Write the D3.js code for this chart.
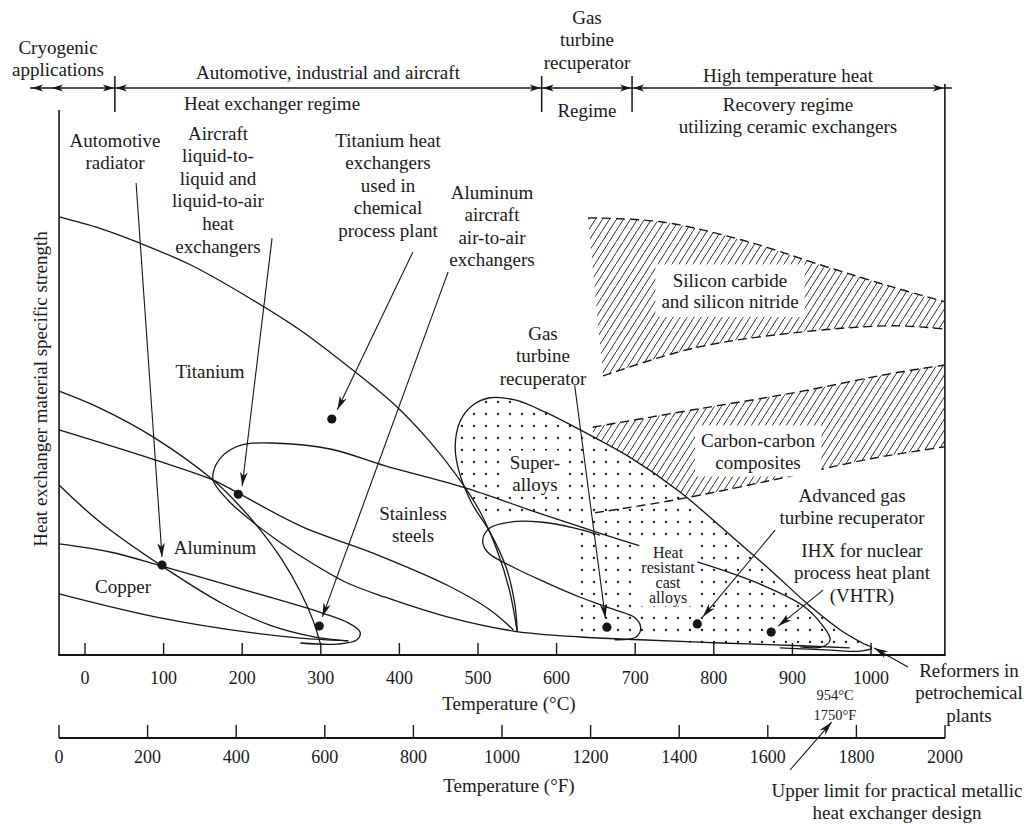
<!DOCTYPE html>
<html>
<head>
<meta charset="utf-8">
<script src="https://cdn.jsdelivr.net/npm/d3@7"></script>
<style>
  body { margin: 0; background: #fff; }
  text { font-family: "Liberation Serif", "Times New Roman", serif; fill: #1a1a1a; }
</style>
</head>
<body>
<svg id="chart" width="1034" height="824"></svg>
<script>
// x values in °C, y values as a relative specific-strength index (0 = axis, 100 = top of frame)
const celsiusTicks = d3.range(0, 1001, 100);
const fahrenheitTicks = d3.range(0, 2001, 200);
const regimeBounds = [-70, 38, 581, 696, 1094];

const titanium = [[-33,80.4],[19,78.3],[66,75.8],[134,71.6],[207,65.7],[274,59.6],[337,52.7],[394,45.9],[439,39.1],[475,32.5],[503,26.2],[524,19.3],[540,11.9],[550,4.2]];
const titaniumLower = [[-33,41.3],[89,35.8],[163,32.1],[195,29.7],[274,23.7],[375,18.2],[461,12.8],[515,8.3],[545,4.6]];
const aluminumUpper = [[-33,48.4],[19,45.3],[89,39.8],[163,32.1],[197,27.3],[225,22.6],[251,17.4],[274,11.6],[290,6.4],[300,1.8]];
const aluminumLower = [[-33,31.2],[19,24.4],[98,16.3],[174,9.5],[235,5.5],[293,3.3],[335,2.6]];
const copperUpper = [[-33,20.4],[32,18.9],[98,16.3],[216,11.4],[302,7.7],[335,5.9],[350,4.2],[346,2.8],[322,2.0],[274,2.2]];
const copperLower = [[-33,11.2],[89,7.0],[216,4.0],[274,3.1],[335,2.6]];
const stainless = [[973,1.3],[910,1.7],[808,2.2],[706,2.8],[630,3.3],[545,4.4],[461,7.0],[382,10.6],[331,13.4],[286,17.1],[248,20.7],[210,24.8],[182,28.4],[163,32.1],
  [167,35.0],[182,37.4],[204,38.7],[238,38.9],[312,37.8],[382,34.7],[481,30.8],[566,26.6],[643,22.9],[702,20.2],[783,16.9],[859,13.0],[914,9.0],[938,5.5],[948,2.8],[938,1.5],[910,1.5]];
const heatResistant = [[655,22.0],[623,23.3],[579,24.4],[541,24.4],[515,23.3],[506,21.1],[512,18.9],[545,16.1],[588,13.2],[630,10.6],[672,8.4],[700,6.8],[707,5.0],[701,3.3],[674,2.8]];
const superalloy = [[550,4.2],[547,9.2],[536,16.0],[515,22.6],[492,27.9],[476,33.6],[471,38.3],[477,42.8],[492,45.7],[515,47.2],[547,46.8],[585,44.6],[630,41.3],[693,36.3],[757,29.9],[821,22.0],[875,15.2],[919,9.4],[961,4.6],[989,2.2],[1001,1.3],[986,0.7],[948,0.9],[884,1.3]];
const sicTop = [[640,80.2],[732,79.5],[837,76.1],[944,71.2],[1028,67.5],[1094,64.8]];
const sicBottom = [[659,51.2],[774,56.3],[901,59.1],[1028,60.4],[1094,59.8]];
const ccTop = [[646,41.8],[774,45.0],[901,48.1],[1028,51.7],[1094,53.2]];
const ccBottom = [[649,26.1],[748,28.4],[875,32.1],[1003,36.1],[1094,38.2]];
const applications = [[98,16.5],[195,29.5],[298,5.3],[314,43.3],[664,5.1],[779,5.7],[873,4.2]];
const pointers = [
  [[65,86.6],[98,18.0]], [[238,76.5],[200,31.0]], [[417,73.9],[321,45.0]], [[462,70.3],[302,7.0]],
  [[623,49.5],[662,6.8]], [[878,22.9],[786,7.0]], [[939,11.9],[882,5.3]], [[1047,-2.2],[1004,1.3]],
  [[897,-21.1],[950,-12.3]]
];
const dotGap = {maxTemp: 620, maxStrength: 24.8};

const notes = [
  {x: 58, y: 47, lines: ["Cryogenic", "applications"]},
  {x: 328, y: 72, lines: ["Automotive, industrial and aircraft"]},
  {x: 272, y: 103, lines: ["Heat exchanger regime"]},
  {x: 587, y: 17, lines: ["Gas", "turbine", "recuperator"]},
  {x: 587, y: 110, lines: ["Regime"]},
  {x: 788, y: 75, lines: ["High temperature heat"]},
  {x: 788, y: 104, lines: ["Recovery regime", "utilizing ceramic exchangers"]},
  {x: 115, y: 140, lines: ["Automotive", "radiator"]},
  {x: 218, y: 133, lines: ["Aircraft", "liquid-to-", "liquid and", "liquid-to-air", "heat", "exchangers"]},
  {x: 388, y: 140, lines: ["Titanium heat", "exchangers", "used in", "chemical", "process plant"]},
  {x: 492, y: 192, lines: ["Aluminum", "aircraft", "air-to-air", "exchangers"]},
  {x: 543, y: 333, lines: ["Gas", "turbine", "recuperator"]},
  {x: 210, y: 371, lines: ["Titanium"]},
  {x: 413, y: 513, lines: ["Stainless", "steels"]},
  {x: 215, y: 547, lines: ["Aluminum"]},
  {x: 123, y: 586, lines: ["Copper"]},
  {x: 535, y: 462, lines: ["Super-", "alloys"], pad: [3, 1]},
  {x: 668, y: 552, lines: ["Heat", "resistant", "cast", "alloys"], size: 16, lh: 15, pad: [2, 0]},
  {x: 730, y: 280, lines: ["Silicon carbide", "and silicon nitride"], lh: 21.5, pad: [6, 5]},
  {x: 758, y: 440, lines: ["Carbon-carbon", "composites"], lh: 22, pad: [6, 4]},
  {x: 852, y: 495, lines: ["Advanced gas", "turbine recuperator"], lh: 22},
  {x: 862, y: 550, lines: ["IHX for nuclear", "process heat plant", "(VHTR)"]},
  {x: 969, y: 670, lines: ["Reformers in", "petrochemical", "plants"]},
  {x: 835, y: 695, lines: ["954°C", "1750°F"], size: 14.5, lh: 20},
  {x: 897, y: 790, lines: ["Upper limit for practical metallic", "heat exchanger design"]},
  {x: 509, y: 703, lines: ["Temperature (°C)"]},
  {x: 509, y: 785, lines: ["Temperature (°F)"]}
];

const svg = d3.select("#chart");
const ink = "#161616";
const frameLeft = -33, frameRight = 1094;

const x = d3.scaleLinear().domain([0, 1000]).range([85, 871]);
const xF = d3.scaleLinear().domain([0, 2000]).range([59, 945]);
const y = d3.scaleLinear().domain([0, 100]).range([655, 110]);

const line = d3.line().x(d => x(d[0])).y(d => y(d[1])).curve(d3.curveCatmullRom.alpha(0.5));
const band = (top, bottom) => line(top) + "L" + line(bottom.slice().reverse()).slice(1) + "Z";

svg.append("rect").attr("width", 1034).attr("height", 824).attr("fill", "#fff");

const defs = svg.append("defs");
defs.append("pattern").attr("id", "hatch").attr("patternUnits", "userSpaceOnUse")
    .attr("width", 7).attr("height", 11)
  .append("path").attr("d", "M-0.64,12L7.64,-1").attr("stroke", ink).attr("stroke-width", 0.9);
defs.append("pattern").attr("id", "dots").attr("patternUnits", "userSpaceOnUse")
    .attr("width", 12).attr("height", 12)
  .append("circle").attr("cx", 6).attr("cy", 6).attr("r", 1.15).attr("fill", ink);
defs.append("marker").attr("id", "tip").attr("viewBox", "-15 -5 16 10")
    .attr("refX", 0).attr("refY", 0).attr("markerWidth", 16).attr("markerHeight", 10)
    .attr("markerUnits", "userSpaceOnUse").attr("orient", "auto")
  .append("path").attr("d", "M0,0L-14,-3.8L-10,0L-14,3.8Z").attr("fill", ink);

defs.append("clipPath").attr("id", "saClip").append("path").attr("d", line(superalloy) + "Z");
const diag = superalloy.slice(11, 21);
defs.append("clipPath").attr("id", "ccClip").append("path")
    .attr("d", line(diag) + `L${x(frameRight) + 5},${y(-3)}L${x(frameRight) + 5},${y(100)}L${x(diag[0][0])},${y(100)}Z`);
const mask = defs.append("mask").attr("id", "dotMask");
mask.append("rect").attr("width", 1034).attr("height", 824).attr("fill", "#fff");
mask.append("rect").attr("x", x(400)).attr("y", y(dotGap.maxStrength))
    .attr("width", x(dotGap.maxTemp) - x(400)).attr("height", y(0) - y(dotGap.maxStrength)).attr("fill", "#000");

// dotted superalloy field
svg.append("rect").attr("x", x(440)).attr("y", y(50)).attr("width", x(1020) - x(440)).attr("height", y(0) - y(50))
    .attr("fill", "url(#dots)").attr("clip-path", "url(#saClip)").attr("mask", "url(#dotMask)");

// hatched ceramic bands
svg.append("path").attr("d", band(sicTop, sicBottom)).attr("fill", "url(#hatch)");
svg.append("path").attr("d", band(ccTop, ccBottom)).attr("fill", "url(#hatch)").attr("clip-path", "url(#ccClip)");

[titanium, titaniumLower, aluminumUpper, aluminumLower, copperUpper, copperLower, stainless, heatResistant, superalloy]
  .forEach(c => svg.append("path").attr("d", line(c)).attr("fill", "none").attr("stroke", ink).attr("stroke-width", 1.3));

[sicTop, sicBottom, ccTop, ccBottom].forEach(c => svg.append("path").attr("d", line(c))
    .attr("fill", "none").attr("stroke", ink).attr("stroke-width", 1.4).attr("stroke-dasharray", "9,5"));

notes.forEach(n => {
  const g = svg.append("g");
  const fs = n.size || 19, lh = n.lh || 22.6;
  n.lines.forEach((t, i) => g.append("text")
      .attr("x", n.x).attr("y", n.y + i * lh)
      .attr("text-anchor", "middle").attr("dominant-baseline", "central")
      .style("font-size", fs + "px").text(t));
  if (n.pad) {
    const b = g.node().getBBox();
    g.insert("rect", "text").attr("x", b.x - n.pad[0]).attr("y", b.y - n.pad[1])
        .attr("width", b.width + 2 * n.pad[0]).attr("height", b.height + 2 * n.pad[1]).attr("fill", "#fff");
  }
});

svg.append("text").attr("transform", "translate(40,389) rotate(-90)")
    .attr("text-anchor", "middle").attr("dominant-baseline", "central")
    .style("font-size", "19px").text("Heat exchanger material specific strength");

applications.forEach(d => svg.append("circle").attr("cx", x(d[0])).attr("cy", y(d[1])).attr("r", 4.6).attr("fill", ink));
pointers.forEach(p => svg.append("line")
    .attr("x1", x(p[0][0])).attr("y1", y(p[0][1])).attr("x2", x(p[1][0])).attr("y2", y(p[1][1]))
    .attr("stroke", ink).attr("stroke-width", 1.1).attr("marker-end", "url(#tip)"));

// frame and axes
const yBase = y(0), yF = 738, yTop = 88;
const stroke = (sel, w) => sel.attr("stroke", ink).attr("stroke-width", w);
stroke(svg.append("line").attr("x1", x(frameLeft)).attr("x2", x(frameLeft)).attr("y1", y(100)).attr("y2", yBase), 1.6);
stroke(svg.append("line").attr("x1", x(frameRight)).attr("x2", x(frameRight)).attr("y1", yTop - 4).attr("y2", yBase), 1.6);
stroke(svg.append("line").attr("x1", x(frameLeft) - 0.8).attr("x2", x(frameRight) + 0.8).attr("y1", yBase).attr("y2", yBase), 1.9);

celsiusTicks.forEach(t => {
  stroke(svg.append("line").attr("x1", x(t)).attr("x2", x(t)).attr("y1", yBase).attr("y2", yBase - 12), 1.4);
  svg.append("text").attr("x", x(t)).attr("y", yBase + 23).attr("text-anchor", "middle")
      .attr("dominant-baseline", "central").style("font-size", "18px").text(t);
});

stroke(svg.append("line").attr("x1", xF(0)).attr("x2", xF(2000)).attr("y1", yF).attr("y2", yF), 1.9);
fahrenheitTicks.forEach(t => {
  stroke(svg.append("line").attr("x1", xF(t)).attr("x2", xF(t)).attr("y1", yF).attr("y2", yF - 13), 1.4);
  svg.append("text").attr("x", xF(t)).attr("y", yF + 19).attr("text-anchor", "middle")
      .attr("dominant-baseline", "central").style("font-size", "18px").text(t);
});

// regime bracket
stroke(svg.append("line").attr("x1", x(regimeBounds[0])).attr("x2", x(frameRight) + 7).attr("y1", yTop).attr("y2", yTop), 1.6);
regimeBounds.slice(1, 4).forEach(b =>
  stroke(svg.append("line").attr("x1", x(b)).attr("x2", x(b)).attr("y1", yTop - 12).attr("y2", yTop + 24), 1.5));
const head = (px, dir) => svg.append("path")
    .attr("d", `M${px},${yTop}l${-dir * 11},-3.6l${dir * 3},3.6l${-dir * 3},3.6Z`).attr("fill", ink);
head(x(regimeBounds[0]) + 2, -1);
head(x(regimeBounds[0]) + 22, -1);
regimeBounds.slice(1, 4).forEach(b => { head(x(b) - 1, 1); head(x(b) + 1, -1); });
head(x(frameRight) - 1, 1);
</script>
</body>
</html>
